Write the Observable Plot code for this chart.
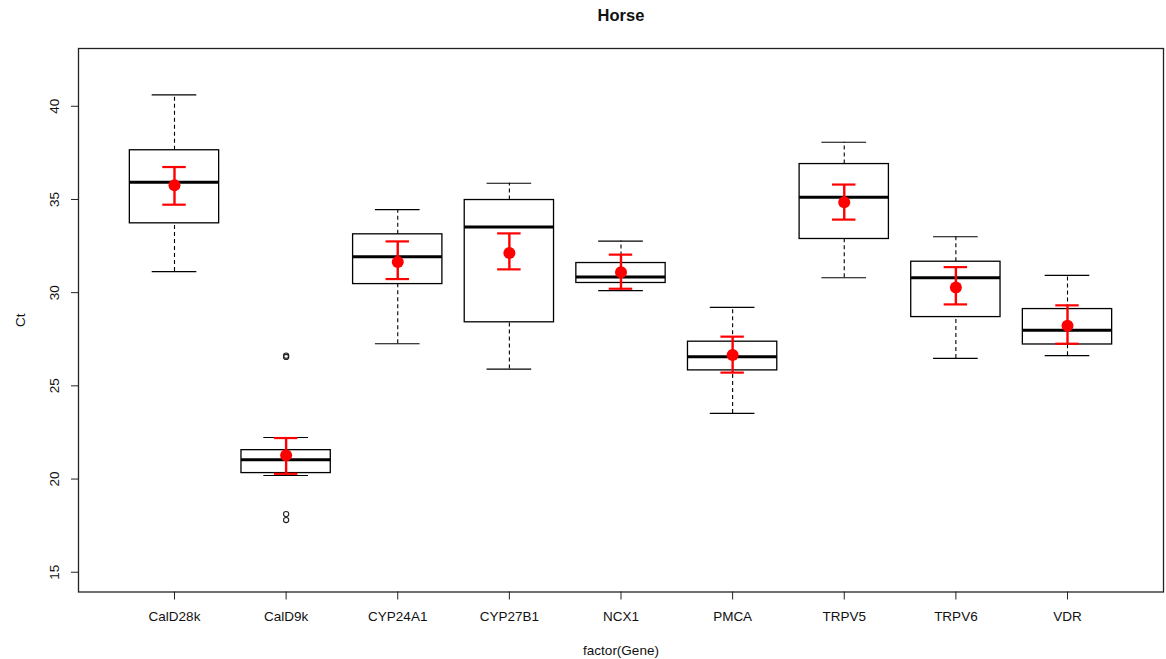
<!DOCTYPE html>
<html>
<head>
<meta charset="utf-8">
<script src="https://cdn.jsdelivr.net/npm/d3@7"></script>
<script src="https://cdn.jsdelivr.net/npm/@observablehq/plot@0.6"></script>
<style>
  html, body { margin: 0; padding: 0; background: #fff; }
  #chart { width: 1166px; height: 659px; }
</style>
</head>
<body>
<div id="chart"></div>
<script>
const genes = ["CalD28k", "CalD9k", "CYP24A1", "CYP27B1", "NCX1", "PMCA", "TRPV5", "TRPV6", "VDR"];
const whiskerLow  = [31.13, 20.19, 27.26, 25.90, 30.11, 23.52, 30.80, 26.47, 26.62];
const q1          = [33.72, 20.32, 30.46, 28.41, 30.52, 25.83, 32.88, 28.69, 27.22];
const median      = [35.92, 21.04, 31.93, 33.52, 30.84, 26.56, 35.12, 30.80, 27.98];
const q3          = [37.64, 21.55, 33.13, 34.97, 31.59, 27.37, 36.90, 31.66, 29.12];
const whiskerHigh = [40.61, 22.23, 34.46, 35.87, 32.77, 29.21, 38.07, 33.00, 30.93];
const meanCt      = [35.76, 21.28, 31.64, 32.13, 31.09, 26.65, 34.85, 30.28, 28.23];
const errLow      = [34.72, 20.28, 30.73, 31.25, 30.21, 25.71, 33.92, 29.37, 27.26];
const errHigh     = [36.74, 22.20, 32.75, 33.18, 32.04, 27.64, 35.80, 31.37, 29.32];
const outlierGene  = ["CalD9k", "CalD9k", "CalD9k", "CalD9k"];
const outlierValue = [26.55, 26.62, 18.12, 17.80];
const yTicks = [15, 20, 25, 30, 35, 40];

const title = "Horse";
const xLabel = "factor(Gene)";
const yLabel = "Ct";

const rows = genes.map((g, i) => ({
  gene: g, pos: i + 1,
  lo: whiskerLow[i], q1: q1[i], med: median[i], q3: q3[i], hi: whiskerHigh[i],
  mean: meanCt[i], eLo: errLow[i], eHi: errHigh[i]
}));
const outliers = outlierGene.map((g, i) => ({ pos: genes.indexOf(g) + 1, value: outlierValue[i] }));

const boxHalf = 0.4, capHalf = 0.2, errCapHalf = 0.105;
const font = "'Liberation Sans', Arial, Helvetica, sans-serif";

const chart = Plot.plot({
  width: 1166,
  height: 659,
  marginTop: 48,
  marginBottom: 67.5,
  marginLeft: 78,
  marginRight: 3,
  style: { fontFamily: font, fontSize: "13.5px", background: "#fff", color: "#000" },
  x: { type: "linear", domain: [0.14, 9.86] },
  y: { type: "linear", domain: [13.94, 43.1] },
  marks: [
    // whiskers (dashed)
    Plot.ruleX(rows, { x: "pos", y1: "lo", y2: "q1", stroke: "#000", strokeWidth: 1.1, strokeDasharray: "4,3" }),
    Plot.ruleX(rows, { x: "pos", y1: "q3", y2: "hi", stroke: "#000", strokeWidth: 1.1, strokeDasharray: "4,3" }),
    // whisker caps
    Plot.ruleY(rows, { y: "lo", x1: d => d.pos - capHalf, x2: d => d.pos + capHalf, stroke: "#000", strokeWidth: 1.2 }),
    Plot.ruleY(rows, { y: "hi", x1: d => d.pos - capHalf, x2: d => d.pos + capHalf, stroke: "#000", strokeWidth: 1.2 }),
    // boxes
    Plot.rect(rows, { x1: d => d.pos - boxHalf, x2: d => d.pos + boxHalf, y1: "q1", y2: "q3", fill: "#fff", stroke: "#000", strokeWidth: 1.3 }),
    // medians
    Plot.ruleY(rows, { y: "med", x1: d => d.pos - boxHalf, x2: d => d.pos + boxHalf, stroke: "#000", strokeWidth: 3 }),
    // outliers
    Plot.dot(outliers, { x: "pos", y: "value", r: 2.6, stroke: "#222", fill: "none", strokeWidth: 1.1 }),
    // red error bars
    Plot.ruleX(rows, { x: "pos", y1: "eLo", y2: "eHi", stroke: "#ff0000", strokeWidth: 2.4 }),
    Plot.ruleY(rows, { y: "eLo", x1: d => d.pos - errCapHalf, x2: d => d.pos + errCapHalf, stroke: "#ff0000", strokeWidth: 2.2 }),
    Plot.ruleY(rows, { y: "eHi", x1: d => d.pos - errCapHalf, x2: d => d.pos + errCapHalf, stroke: "#ff0000", strokeWidth: 2.2 }),
    Plot.dot(rows, { x: "pos", y: "mean", r: 6, fill: "#ff0000", stroke: "none" }),
    // frame
    Plot.frame({ stroke: "#222", strokeWidth: 1.3 }),
    // x axis
    Plot.axisX({
      ticks: rows.map(d => d.pos),
      tickFormat: v => genes[v - 1],
      tickSize: 8,
      tickPadding: 11,
      label: null,
      stroke: "#222",
      fill: "#111",
      fontSize: 13.5
    }),
    // y axis ticks
    Plot.axisY({ ticks: yTicks, tickSize: 7, tickFormat: () => "", label: null, stroke: "#222" }),
    // y tick labels, rotated like R
    Plot.text(yTicks, { y: d => d, frameAnchor: "left", dx: -24, rotate: -90, text: d => String(d), textAnchor: "middle", lineAnchor: "middle", fill: "#111", fontSize: 13.5 }),
    // axis titles
    Plot.text([xLabel], { frameAnchor: "bottom", dy: 59, text: d => d, textAnchor: "middle", lineAnchor: "middle", fill: "#111", fontSize: 13.5 }),
    Plot.text([yLabel], { frameAnchor: "left", dx: -58, rotate: -90, text: d => d, textAnchor: "middle", lineAnchor: "middle", fill: "#111", fontSize: 13.5 }),
    Plot.text([title], { frameAnchor: "top", dy: -33, text: d => d, textAnchor: "middle", lineAnchor: "middle", fill: "#111", fontSize: 16.5, fontWeight: "bold" })
  ]
});
document.getElementById("chart").appendChild(chart);
</script>
</body>
</html>
